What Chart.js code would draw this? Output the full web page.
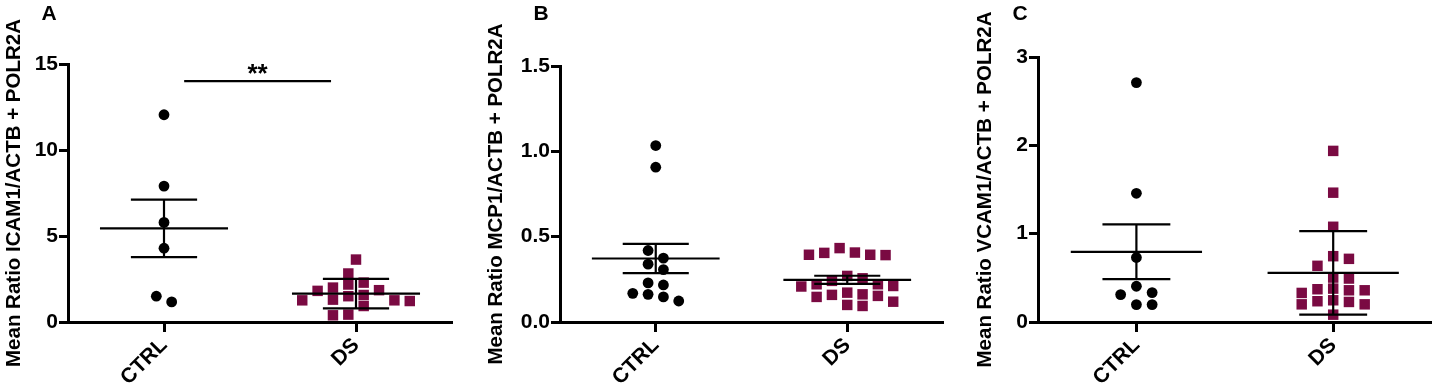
<!DOCTYPE html>
<html>
<head>
<meta charset="utf-8">
<script src="https://cdn.jsdelivr.net/npm/chart.js@4.4.0/dist/chart.umd.min.js"></script>
<style>
  html, body { margin: 0; padding: 0; background: #fff; }
  .panel { position: absolute; top: 0; height: 387px; }
</style>
</head>
<body>
<div class="panel" style="left:0;width:480px"><canvas id="chartA" width="480" height="387"></canvas></div>
<div class="panel" style="left:480px;width:480px"><canvas id="chartB" width="480" height="387"></canvas></div>
<div class="panel" style="left:960px;width:479px"><canvas id="chartC" width="479" height="387"></canvas></div>
<script>
const groups = ["CTRL", "DS"];

// panel A - ICAM1
const icamCtrl = [12.05, 7.9, 5.79, 4.29, 1.17, 1.5];
const icamDs = [3.63, 2.82, 2.29, 2.18, 2.0, 1.81, 1.85, 1.57, 1.5, 1.26, 1.3, 1.22, 1.26, 0.93, 0.39, 0.43];
const icamMean = [5.44, 1.65];
const icamErr = [1.67, 0.86];
const icamTicks = [0, 5, 10, 15];

// panel B - MCP1
const mcpCtrl = [1.034, 0.907, 0.419, 0.374, 0.339, 0.307, 0.229, 0.217, 0.162, 0.168, 0.147, 0.123];
const mcpDs = [0.407, 0.394, 0.392, 0.394, 0.405, 0.433, 0.256, 0.27, 0.221, 0.211, 0.208, 0.221, 0.241,
  0.162, 0.153, 0.147, 0.159, 0.172, 0.119, 0.094, 0.1];
const mcpMean = [0.372, 0.247];
const mcpErr = [0.086, 0.024];
const mcpTicks = [0, 0.5, 1.0, 1.5];

// panel C - VCAM1
const vcamCtrl = [2.71, 1.457, 0.73, 0.405, 0.31, 0.333, 0.197, 0.197];
const vcamDs = [1.937, 1.464, 1.078, 0.745, 0.715, 0.636, 0.492, 0.503, 0.371, 0.359, 0.329, 0.359, 0.378,
  0.235, 0.2, 0.2, 0.227, 0.246, 0.083];
const vcamMean = [0.795, 0.556];
const vcamErr = [0.31, 0.473];
const vcamTicks = [0, 1, 2, 3];

// significance bar between CTRL and DS in panel A
const sigLevel = 14;
const sigLabel = "**";

const FONT = "'Liberation Sans', Arial, sans-serif";
const DS_COLOR = "#7a0a42";

// mean + error bars, significance bar, panel letter
const overlayPlugin = {
  id: "overlay",
  afterDatasetsDraw(chart, args, opts) {
    const { ctx } = chart;
    const xs = chart.scales.x, ys = chart.scales.y;
    const unit = xs.getPixelForValue(1) - xs.getPixelForValue(0);
    ctx.save();
    ctx.strokeStyle = "#000";
    ctx.lineWidth = 2.2;
    opts.mean.forEach((m, i) => {
      const cx = xs.getPixelForValue(1 + 2 * i);
      const my = ys.getPixelForValue(m);
      const hi = ys.getPixelForValue(m + opts.err[i]);
      const lo = ys.getPixelForValue(m - opts.err[i]);
      ctx.beginPath();
      ctx.moveTo(cx - 0.667 * unit, my); ctx.lineTo(cx + 0.667 * unit, my);
      ctx.moveTo(cx - 0.345 * unit, hi); ctx.lineTo(cx + 0.345 * unit, hi);
      ctx.moveTo(cx - 0.345 * unit, lo); ctx.lineTo(cx + 0.345 * unit, lo);
      ctx.moveTo(cx, hi); ctx.lineTo(cx, lo);
      ctx.stroke();
    });
    if (opts.sig) {
      const sy = ys.getPixelForValue(opts.sig.level);
      const x1 = xs.getPixelForValue(1) + 0.21 * unit;
      const x2 = xs.getPixelForValue(3) - 0.26 * unit;
      ctx.beginPath();
      ctx.moveTo(x1, sy); ctx.lineTo(x2, sy);
      ctx.stroke();
      ctx.fillStyle = "#000";
      ctx.font = "bold 26px " + FONT;
      ctx.textAlign = "center";
      ctx.textBaseline = "alphabetic";
      ctx.fillText(opts.sig.label, (x1 + x2) / 2, sy + 1);
    }
    ctx.fillStyle = "#000";
    ctx.font = "bold 21px " + FONT;
    ctx.textAlign = "center";
    ctx.textBaseline = "alphabetic";
    ctx.fillText(opts.letter, opts.letterX, 20);
    ctx.restore();
  },
};

// spread points of each group sideways so the markers do not overlap,
// then centre every cluster of touching rows on its category
function swarm(chart) {
  const xs = chart.scales.x, ys = chart.scales.y;
  const unit = xs.getPixelForValue(1) - xs.getPixelForValue(0);
  const step = 0.08 * unit;
  const gapX = 14.5, gapY = 11;
  chart.data.datasets.forEach((ds, gi) => {
    const placed = [];
    const order = ds.data.map((p, i) => i).sort((a, b) => ds.data[b].y - ds.data[a].y);
    order.forEach((i) => {
      const py = ys.getPixelForValue(ds.data[i].y);
      let off = 0;
      for (let k = 0; k < 60; k++) {
        off = (k % 2 ? 1 : -1) * Math.ceil(k / 2) * step;
        if (!placed.some((q) => Math.abs(off - q.off) < gapX && Math.abs(py - q.py) < gapY)) break;
      }
      placed.push({ i, off, py });
    });
    let cluster = [];
    const flush = () => {
      if (!cluster.length) return;
      const lo = Math.min(...cluster.map((q) => q.off));
      const hi = Math.max(...cluster.map((q) => q.off));
      const shift = (lo + hi) / 2;
      cluster.forEach((q) => { q.off -= shift; });
      cluster = [];
    };
    placed.forEach((q, n) => {
      if (n > 0 && q.py - placed[n - 1].py >= gapY) flush();
      cluster.push(q);
    });
    flush();
    placed.forEach((q) => { ds.data[q.i].x = 1 + 2 * gi + q.off / unit; });
  });
  chart.update("none");
}

function makePanel(id, ctrl, ds, mean, err, ticks, decimals, title, geo) {
  const chart = new Chart(document.getElementById(id), {
    type: "scatter",
    data: {
      datasets: [
        {
          data: ctrl.map((v) => ({ x: 1, y: v })),
          pointStyle: "circle",
          pointRadius: 5.4,
          pointHoverRadius: 5.4,
          backgroundColor: "#000",
          borderWidth: 0,
          clip: false,
        },
        {
          data: ds.map((v) => ({ x: 3, y: v })),
          pointStyle: "rect",
          pointRadius: 7.4,
          pointHoverRadius: 7.4,
          backgroundColor: DS_COLOR,
          borderWidth: 0,
          clip: false,
        },
      ],
    },
    options: {
      responsive: false,
      animation: false,
      devicePixelRatio: 1,
      layout: { padding: { left: 0, top: geo.top, right: geo.right, bottom: 0 } },
      plugins: {
        legend: { display: false },
        tooltip: { enabled: false },
        overlay: {
          mean: mean,
          err: err,
          sig: geo.sig,
          letter: geo.letter,
          letterX: geo.letterX,
        },
      },
      scales: {
        x: {
          type: "linear",
          min: 0,
          max: 4,
          afterBuildTicks: (s) => { s.ticks = [{ value: 1 }, { value: 3 }]; },
          ticks: {
            callback: (v, i) => groups[i],
            minRotation: 45,
            maxRotation: 45,
            padding: 1,
            color: "#000",
            font: { family: FONT, size: 21, weight: "bold" },
          },
          grid: { drawOnChartArea: false, drawTicks: true, tickLength: 10, tickWidth: 3, tickColor: "#000" },
          border: { display: true, width: 3, color: "#000" },
          afterFit: (s) => { s.height = 65; },
        },
        y: {
          min: 0,
          max: ticks[ticks.length - 1],
          afterBuildTicks: (s) => { s.ticks = ticks.map((v) => ({ value: v })); },
          ticks: {
            callback: (v) => v.toFixed(decimals),
            padding: 1,
            color: "#000",
            font: { family: FONT, size: 21, weight: "bold" },
          },
          grid: { drawOnChartArea: false, drawTicks: true, tickLength: 9, tickWidth: 3, tickColor: "#000" },
          border: { display: true, width: 3, color: "#000" },
          title: {
            display: true,
            text: title,
            color: "#000",
            font: { family: FONT, size: 20.5, weight: "bold" },
            padding: { top: geo.titlePad, bottom: 0 },
          },
          afterFit: (s) => { s.width = geo.axisW; },
        },
      },
    },
    plugins: [overlayPlugin],
  });
  swarm(chart);
  return chart;
}

makePanel("chartA", icamCtrl, icamDs, icamMean, icamErr, icamTicks, 0,
  "Mean Ratio ICAM1/ACTB + POLR2A",
  { top: 64, right: 28, axisW: 68, titlePad: 2, letter: "A", letterX: 49,
    sig: { level: sigLevel, label: sigLabel } });
makePanel("chartB", mcpCtrl, mcpDs, mcpMean, mcpErr, mcpTicks, 1,
  "Mean Ratio MCP1/ACTB + POLR2A",
  { top: 66, right: 17, axisW: 80, titlePad: 4, letter: "B", letterX: 61, sig: null });
makePanel("chartC", vcamCtrl, vcamDs, vcamMean, vcamErr, vcamTicks, 0,
  "Mean Ratio VCAM1/ACTB + POLR2A",
  { top: 57, right: 7, axisW: 78, titlePad: 13, letter: "C", letterX: 60, sig: null });
</script>
</body>
</html>
